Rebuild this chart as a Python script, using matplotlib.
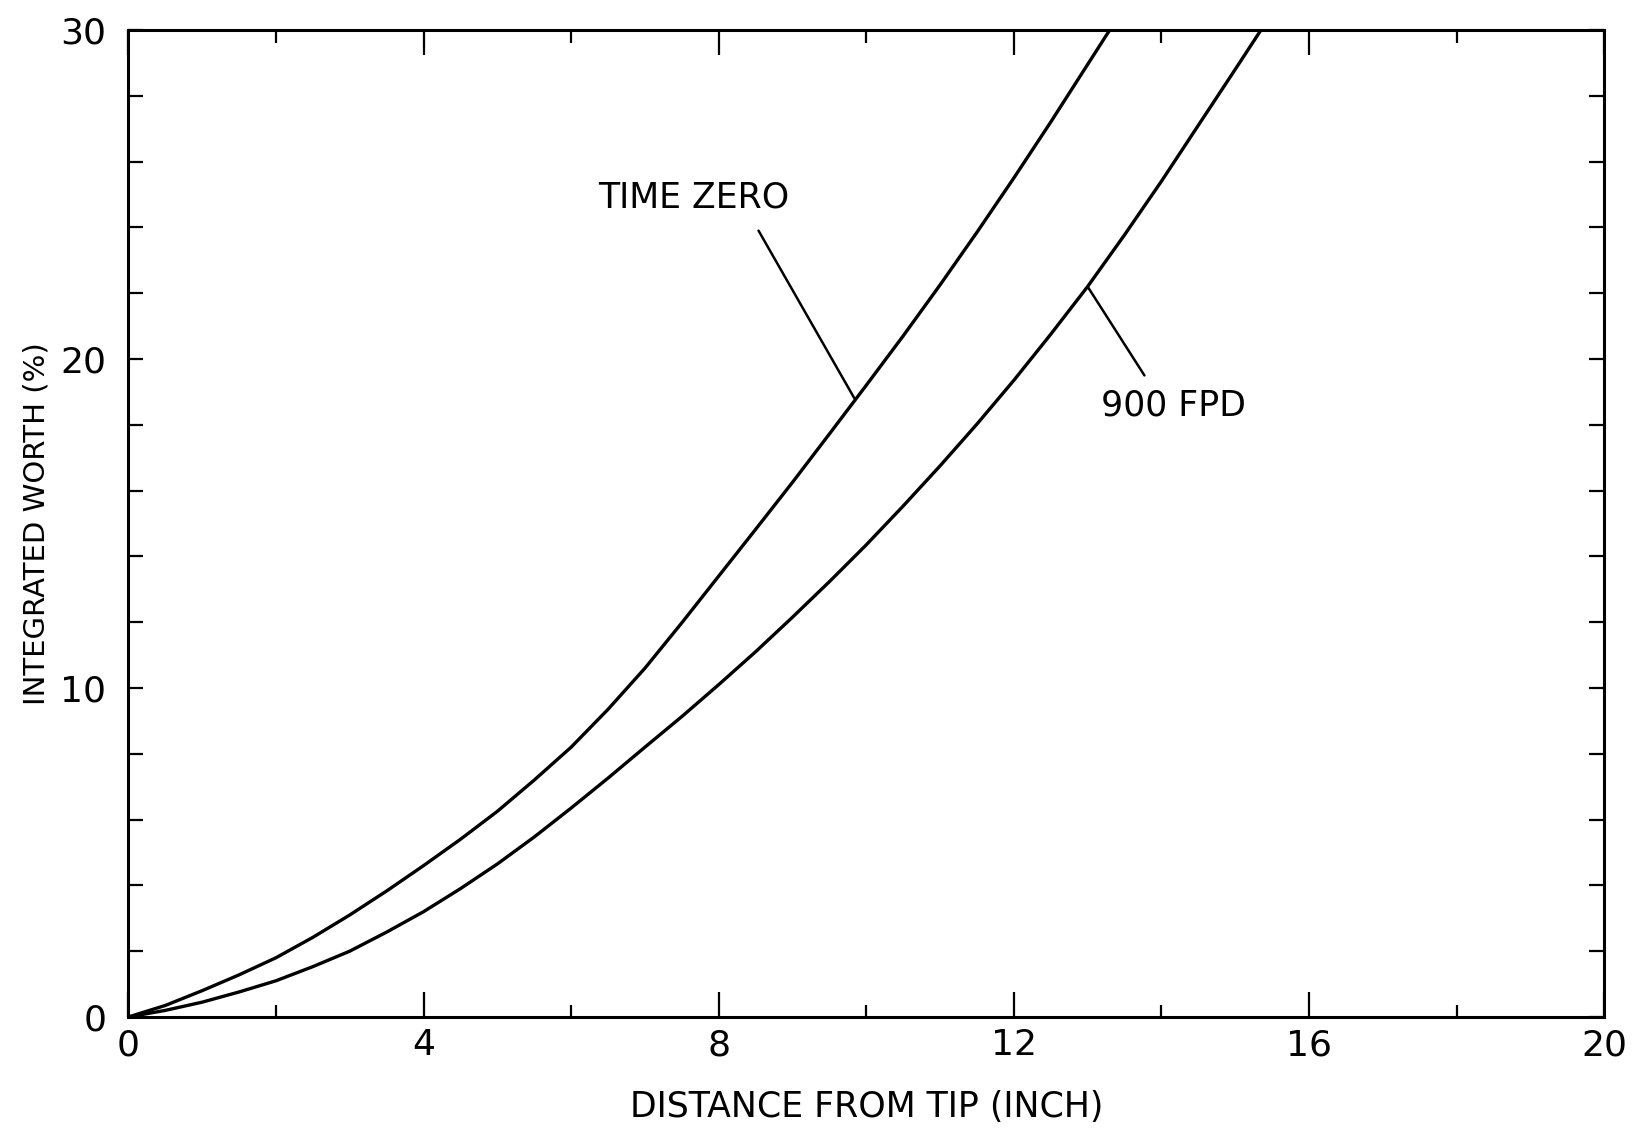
import matplotlib
matplotlib.use('Agg')
import matplotlib.pyplot as plt
from matplotlib.ticker import MultipleLocator

plt.rcParams['font.family'] = ['DejaVu Sans']

# values (every half inch)
dist_time_zero = [0, 0.5, 1, 1.5, 2, 2.5, 3, 3.5, 4, 4.5, 5, 5.5, 6, 6.5, 7, 7.5,
                  8, 8.5, 9, 9.5, 10, 10.5, 11, 11.5, 12, 12.5, 13, 13.3]
worth_time_zero = [0, 0.35, 0.8, 1.28, 1.8, 2.42, 3.1, 3.83, 4.6, 5.4, 6.25, 7.2,
                   8.2, 9.35, 10.6, 11.98, 13.4, 14.82, 16.25, 17.72, 19.2, 20.7,
                   22.25, 23.85, 25.5, 27.2, 28.95, 30.0]

dist_900fpd = [0, 0.5, 1, 1.5, 2, 2.5, 3, 3.5, 4, 4.5, 5, 5.5, 6, 6.5, 7, 7.5,
               8, 8.5, 9, 9.5, 10, 10.5, 11, 11.5, 12, 12.5, 13, 13.5, 14, 14.5,
               15, 15.35]
worth_900fpd = [0, 0.2, 0.45, 0.76, 1.1, 1.53, 2.0, 2.58, 3.2, 3.9, 4.65, 5.47,
                6.35, 7.26, 8.2, 9.13, 10.1, 11.1, 12.15, 13.23, 14.35, 15.53,
                16.75, 18.02, 19.35, 20.75, 22.2, 23.77, 25.4, 27.1, 28.8, 30.0]

x_ticks = [0, 4, 8, 12, 16, 20]
y_ticks = [0, 10, 20, 30]

fig = plt.figure(figsize=(16.36, 11.35), dpi=100)
ax = fig.add_axes([0.0785, 0.104, 0.902, 0.8696])

ax.plot(dist_time_zero, worth_time_zero, color='black', lw=2.4)
ax.plot(dist_900fpd, worth_900fpd, color='black', lw=2.4)

ax.set_xlim(0, 20)
ax.set_ylim(0, 30)
ax.set_xticks(x_ticks)
ax.set_yticks(y_ticks)
ax.xaxis.set_minor_locator(MultipleLocator(2))
ax.yaxis.set_minor_locator(MultipleLocator(2))
ax.tick_params(axis='x', which='major', direction='in', length=18, width=1.6,
               top=True, labelsize=26, pad=8)
ax.tick_params(axis='x', which='minor', direction='in', length=9, width=1.6, top=True)
ax.tick_params(axis='y', which='both', direction='in', length=11, width=1.6,
               right=True, labelsize=26, pad=16)
for s in ax.spines.values():
    s.set_linewidth(2.2)

ax.set_xlabel('DISTANCE FROM TIP (INCH)', fontsize=25, labelpad=20)
ax.set_ylabel('INTEGRATED WORTH (%)', fontsize=21, labelpad=7)

# labels with leader lines
ax.text(7.66, 24.9, 'TIME ZERO', fontsize=25, ha='center', va='center')
ax.annotate('', xy=(9.84, 18.8), xytext=(8.54, 23.9),
            arrowprops=dict(arrowstyle='-', color='black', lw=1.8,
                            shrinkA=0, shrinkB=0))
ax.text(14.16, 18.6, '900 FPD', fontsize=25, ha='center', va='center')
ax.annotate('', xy=(13.0, 22.2), xytext=(13.77, 19.5),
            arrowprops=dict(arrowstyle='-', color='black', lw=1.8,
                            shrinkA=0, shrinkB=0))

fig.savefig('out.png', dpi=100)
